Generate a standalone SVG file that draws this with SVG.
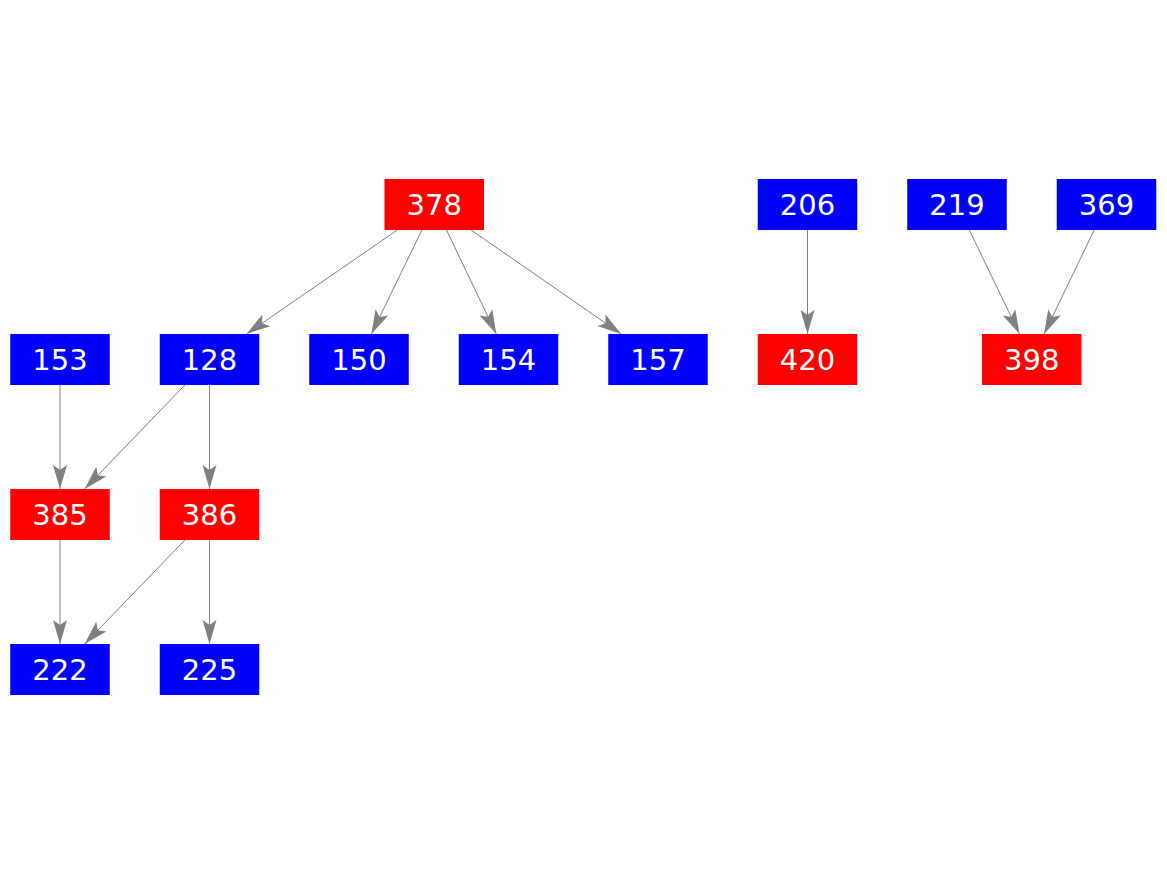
<svg xmlns="http://www.w3.org/2000/svg" width="1167" height="875" viewBox="0 0 1167 875">
<style>
.r{fill:#ff0000}
.b{fill:#0000ff}
.t{fill:#ffffff;font-family:"DejaVu Sans",sans-serif;font-size:29px;text-anchor:middle}
.e{stroke:#808080;stroke-width:1;fill:none;marker-end:url(#ah)}
</style>
<defs>
<marker id="ah" markerUnits="userSpaceOnUse" viewBox="-25 -8 26 16" markerWidth="26" markerHeight="16" refX="0" refY="0" orient="auto" overflow="visible">
<path d="M0,0 L-24,-7 L-19,0 L-24,7 Z" fill="#808080"/>
</marker>
</defs>
<rect width="1167" height="875" fill="#ffffff"/>
<g id="edges">
<line class="e" x1="397.3" y1="230" x2="246.5" y2="334"/>
<line class="e" x1="421.9" y1="230" x2="371.4" y2="334"/>
<line class="e" x1="446.5" y1="230" x2="496.3" y2="334"/>
<line class="e" x1="471.1" y1="230" x2="621.2" y2="334"/>
<line class="e" x1="807.5" y1="230" x2="807.5" y2="334"/>
<line class="e" x1="969.3" y1="230" x2="1019.5" y2="334"/>
<line class="e" x1="1094.2" y1="230" x2="1044.1" y2="334"/>
<line class="e" x1="60" y1="385" x2="60" y2="489"/>
<line class="e" x1="184.9" y1="385" x2="84.6" y2="489"/>
<line class="e" x1="209.5" y1="385" x2="209.5" y2="489"/>
<line class="e" x1="60" y1="540" x2="60" y2="644"/>
<line class="e" x1="184.9" y1="540" x2="84.6" y2="644"/>
<line class="e" x1="209.5" y1="540" x2="209.5" y2="644"/>
</g>
<g id="n378"><rect class="r" x="384.5" y="179" width="99.5" height="51"/><text class="t" x="434.25" y="215">378</text></g>
<g id="n206"><rect class="b" x="757.75" y="179" width="99.5" height="51"/><text class="t" x="807.5" y="215">206</text></g>
<g id="n219"><rect class="b" x="907.25" y="179" width="99.5" height="51"/><text class="t" x="957" y="215">219</text></g>
<g id="n369"><rect class="b" x="1056.75" y="179" width="99.5" height="51"/><text class="t" x="1106.5" y="215">369</text></g>
<g id="n153"><rect class="b" x="10.25" y="334" width="99.5" height="51"/><text class="t" x="60" y="370">153</text></g>
<g id="n128"><rect class="b" x="159.75" y="334" width="99.5" height="51"/><text class="t" x="209.5" y="370">128</text></g>
<g id="n150"><rect class="b" x="309.25" y="334" width="99.5" height="51"/><text class="t" x="359" y="370">150</text></g>
<g id="n154"><rect class="b" x="458.75" y="334" width="99.5" height="51"/><text class="t" x="508.5" y="370">154</text></g>
<g id="n157"><rect class="b" x="608.25" y="334" width="99.5" height="51"/><text class="t" x="658" y="370">157</text></g>
<g id="n420"><rect class="r" x="757.75" y="334" width="99.5" height="51"/><text class="t" x="807.5" y="370">420</text></g>
<g id="n398"><rect class="r" x="982" y="334" width="99.5" height="51"/><text class="t" x="1031.75" y="370">398</text></g>
<g id="n385"><rect class="r" x="10.25" y="489" width="99.5" height="51"/><text class="t" x="60" y="525">385</text></g>
<g id="n386"><rect class="r" x="159.75" y="489" width="99.5" height="51"/><text class="t" x="209.5" y="525">386</text></g>
<g id="n222"><rect class="b" x="10.25" y="644" width="99.5" height="51"/><text class="t" x="60" y="680">222</text></g>
<g id="n225"><rect class="b" x="159.75" y="644" width="99.5" height="51"/><text class="t" x="209.5" y="680">225</text></g>
</svg>
